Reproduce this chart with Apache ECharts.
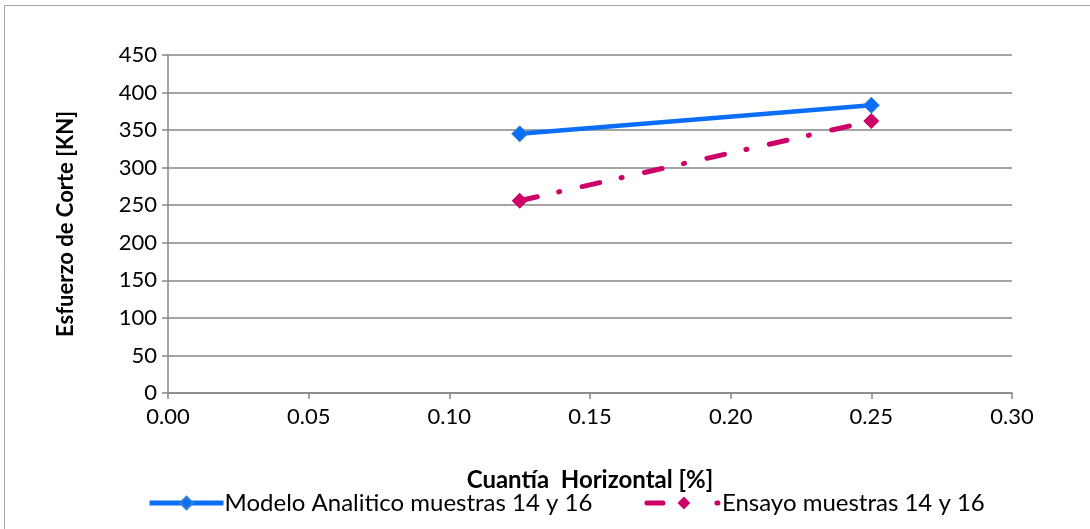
<!DOCTYPE html>
<html>
<head>
<meta charset="utf-8">
<script src="https://cdn.jsdelivr.net/npm/echarts@6/dist/echarts.min.js"></script>
<style>
  html, body { margin: 0; padding: 0; background: #fff; }
  #chart { width: 1090px; height: 529px; }
</style>
</head>
<body>
<div id="chart"></div>
<script>
// Cuantía horizontal [%] vs esfuerzo de corte [KN]
const cuantia = [0.125, 0.25];
const modeloAnalitico = [345, 383];
const ensayo = [256, 362];
const serieNombres = ['Modelo Analitico muestras 14 y 16', 'Ensayo muestras 14 y 16'];
const ejeX = { min: 0, max: 0.3, interval: 0.05 };
const ejeY = { min: 0, max: 450, interval: 50 };

const fuente = 'Lato, "Liberation Sans", sans-serif';
const gris = '#868686';
const azul = '#0a6ef8';
const rosa = '#cc0066';

const chart = echarts.init(document.getElementById('chart'), null, { renderer: 'canvas' });

chart.setOption({
  animation: false,
  backgroundColor: '#ffffff',
  graphic: [{
    type: 'rect',
    shape: { x: 4.5, y: 5.5, width: 1200, height: 700 },
    style: { fill: 'none', stroke: '#a6a6a6', lineWidth: 1 },
    silent: true
  }],
  grid: { left: 168, right: 78, top: 55, bottom: 136 },
  legend: {
    top: 486,
    left: 142,
    itemGap: 52,
    itemWidth: 74,
    itemHeight: 16,
    textStyle: { fontFamily: fuente, fontSize: 24, color: '#000', padding: [0, 0, 0, -4] },
    data: [
      { name: serieNombres[0], lineStyle: { width: 5, color: azul } },
      { name: serieNombres[1], lineStyle: { width: 5, color: rosa, type: [16, 54, 1, 100], cap: 'round' } }
    ]
  },
  xAxis: {
    type: 'value',
    min: ejeX.min, max: ejeX.max, interval: ejeX.interval,
    name: 'Cuantía  Horizontal [%]',
    nameLocation: 'middle',
    nameGap: 75,
    nameTextStyle: { fontFamily: fuente, fontSize: 24, fontWeight: 'bold', color: '#000' },
    axisLine: { show: true, lineStyle: { color: gris, width: 1.5 } },
    axisTick: { show: true, inside: false, length: 6, lineStyle: { color: gris, width: 1.5 } },
    axisLabel: { fontFamily: fuente, fontSize: 22, color: '#000', margin: 13,
                 formatter: v => v.toFixed(2) },
    splitLine: { show: false }
  },
  yAxis: {
    type: 'value',
    min: ejeY.min, max: ejeY.max, interval: ejeY.interval,
    name: 'Esfuerzo de Corte [KN]',
    nameLocation: 'middle',
    nameGap: 91,
    nameRotate: 90,
    nameTextStyle: { fontFamily: fuente, fontSize: 22, fontWeight: 'bold', color: '#000' },
    axisLine: { show: true, lineStyle: { color: gris, width: 1.5 } },
    axisTick: { show: true, inside: false, length: 6, lineStyle: { color: gris, width: 1.5 } },
    axisLabel: { fontFamily: fuente, fontSize: 22, color: '#000', margin: 11 },
    splitLine: { show: true, lineStyle: { color: gris, width: 1.5 } }
  },
  series: [
    {
      name: serieNombres[0],
      type: 'line',
      data: cuantia.map((x, i) => [x, modeloAnalitico[i]]),
      symbol: 'diamond',
      symbolSize: 16,
      itemStyle: { color: azul, borderColor: '#3b7fd0', borderWidth: 1 },
      lineStyle: { color: azul, width: 4.5 },
      z: 3
    },
    {
      name: serieNombres[1],
      type: 'line',
      data: cuantia.map((x, i) => [x, ensayo[i]]),
      symbol: 'diamond',
      symbolSize: 16,
      itemStyle: { color: rosa },
      lineStyle: { color: rosa, width: 5, type: [18, 22, 1, 23], cap: 'round' },
      z: 2
    }
  ]
});
</script>
</body>
</html>
